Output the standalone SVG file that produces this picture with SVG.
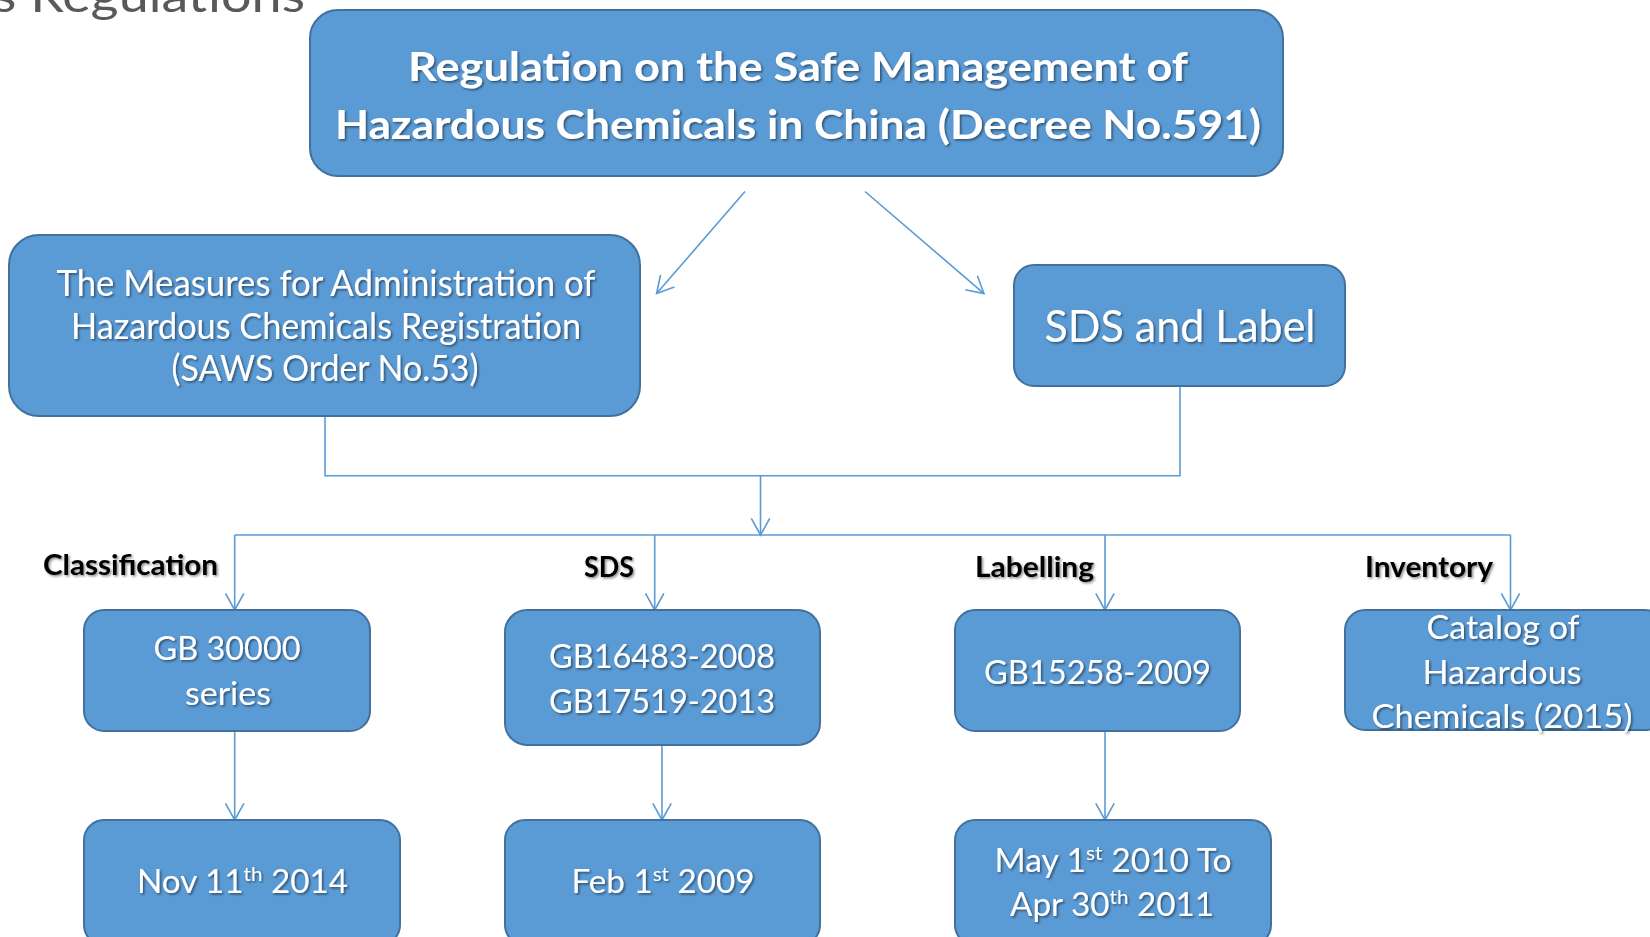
<svg xmlns="http://www.w3.org/2000/svg" width="1650" height="937" viewBox="0 0 1650 937">
<style>
.box{fill:#5B9BD5;stroke:#41719C;stroke-width:2}
.t{font-family:Lato,"Open Sans","Liberation Sans",sans-serif;fill:#FFFFFF;text-anchor:middle}
.b{font-weight:bold}
.lbl{font-family:Lato,"Open Sans","Liberation Sans",sans-serif;font-weight:bold;fill:#000000;font-size:29px}
.sup{font-size:0.62em}
.c{fill:none;stroke:#5B9BD5;stroke-width:1.6}
.a{marker-end:url(#arr)}
</style>
<defs>
<marker id="arr" markerUnits="userSpaceOnUse" viewBox="-20 -12 22 24" markerWidth="22" markerHeight="24" refX="0" refY="0" orient="auto">
<path d="M-16.6,-9.2 L0,0 L-16.6,9.2" fill="none" stroke="#5B9BD5" stroke-width="1.6"/>
</marker>
<filter id="sh" x="-5%" y="-30%" width="110%" height="160%">
<feDropShadow dx="1.5" dy="1.5" stdDeviation="1" flood-color="#000" flood-opacity="0.5"/>
</filter>
<filter id="shl" x="-5%" y="-30%" width="110%" height="160%">
<feDropShadow dx="1.5" dy="1.5" stdDeviation="1" flood-color="#000" flood-opacity="0.45"/>
</filter>
</defs>
<rect width="1650" height="937" fill="#FFFFFF"/>

<g id="title">
<text x="305" y="12" font-family="Lato,'Open Sans','Liberation Sans',sans-serif" font-size="46" fill="#595959" text-anchor="end" textLength="312" lengthAdjust="spacingAndGlyphs">s Regulations</text>
</g>

<g id="connectors">
<path class="c a" d="M745,191.5 L656.6,293.6"/>
<path class="c a" d="M865,191.5 L984,293.6"/>
<path class="c" d="M325,416 V475.7 H1180 V386"/>
<path class="c a" d="M760.5,475.7 V535"/>
<path class="c" d="M234.7,535 H1510.5"/>
<path class="c a" d="M234.7,535 V610"/>
<path class="c a" d="M654.7,535 V610"/>
<path class="c a" d="M1105,535 V610"/>
<path class="c a" d="M1510.5,535 V610"/>
<path class="c a" d="M234.7,731 V820"/>
<path class="c a" d="M662,745 V820"/>
<path class="c a" d="M1105,731 V820"/>
</g>

<g id="n-decree">
<rect class="box" x="310" y="10" width="973" height="166" rx="28"/>
<g filter="url(#sh)">
<text class="t b" x="798" y="81" font-size="40" textLength="780" lengthAdjust="spacingAndGlyphs">Regulation on the Safe Management of</text>
<text class="t b" x="798" y="139" font-size="40" textLength="926" lengthAdjust="spacingAndGlyphs">Hazardous Chemicals in China (Decree No.591)</text>
</g>
</g>

<g id="n-measures">
<rect class="box" x="9" y="235" width="631" height="181" rx="30"/>
<g filter="url(#sh)">
<text class="t" x="326" y="296" font-size="36.5" textLength="539" lengthAdjust="spacingAndGlyphs">The Measures for Administration of</text>
<text class="t" x="326" y="338.5" font-size="36.5" textLength="510" lengthAdjust="spacingAndGlyphs">Hazardous Chemicals Registration</text>
<text class="t" x="325" y="381" font-size="36.5" textLength="307" lengthAdjust="spacingAndGlyphs">(SAWS Order No.53)</text>
</g>
</g>

<g id="n-sdslabel">
<rect class="box" x="1014" y="265" width="331" height="121" rx="20"/>
<g filter="url(#sh)">
<text class="t" x="1180" y="342" font-size="43.5" textLength="271" lengthAdjust="spacingAndGlyphs">SDS and Label</text>
</g>
</g>

<g id="labels" filter="url(#shl)">
<text class="lbl" x="43" y="575" textLength="175" lengthAdjust="spacingAndGlyphs">Classification</text>
<text class="lbl" x="584" y="577" textLength="50" lengthAdjust="spacingAndGlyphs">SDS</text>
<text class="lbl" x="975" y="577" textLength="119" lengthAdjust="spacingAndGlyphs">Labelling</text>
<text class="lbl" x="1365" y="577" textLength="128" lengthAdjust="spacingAndGlyphs">Inventory</text>
</g>

<g id="n-gb30000">
<rect class="box" x="84" y="610" width="286" height="121" rx="20"/>
<g filter="url(#sh)">
<text class="t" x="227" y="660" font-size="32.5" textLength="147" lengthAdjust="spacingAndGlyphs">GB 30000</text>
<text class="t" x="228" y="705" font-size="32.5" textLength="86" lengthAdjust="spacingAndGlyphs">series</text>
</g>
</g>

<g id="n-gb16483">
<rect class="box" x="505" y="610" width="315" height="135" rx="22"/>
<g filter="url(#sh)">
<text class="t" x="662" y="668" font-size="32.5" textLength="226" lengthAdjust="spacingAndGlyphs">GB16483-2008</text>
<text class="t" x="662" y="713" font-size="32.5" textLength="226" lengthAdjust="spacingAndGlyphs">GB17519-2013</text>
</g>
</g>

<g id="n-gb15258">
<rect class="box" x="955" y="610" width="285" height="121" rx="20"/>
<g filter="url(#sh)">
<text class="t" x="1097.5" y="684" font-size="32.5" textLength="227" lengthAdjust="spacingAndGlyphs">GB15258-2009</text>
</g>
</g>

<g id="n-catalog">
<rect class="box" x="1345" y="610" width="320" height="120" rx="20"/>
<g filter="url(#sh)">
<text class="t" x="1503" y="639" font-size="33" textLength="153" lengthAdjust="spacingAndGlyphs">Catalog of</text>
<text class="t" x="1502" y="684" font-size="33" textLength="159" lengthAdjust="spacingAndGlyphs">Hazardous</text>
<text class="t" x="1502" y="728" font-size="33" textLength="261" lengthAdjust="spacingAndGlyphs">Chemicals (2015)</text>
</g>
</g>

<g id="n-nov">
<rect class="box" x="84" y="820" width="316" height="125" rx="20"/>
<g filter="url(#sh)">
<text class="t" x="242.5" y="893" font-size="32.5" textLength="211" lengthAdjust="spacingAndGlyphs">Nov 11<tspan class="sup" dy="-12">th</tspan><tspan dy="12"> 2014</tspan></text>
</g>
</g>

<g id="n-feb">
<rect class="box" x="505" y="820" width="315" height="125" rx="20"/>
<g filter="url(#sh)">
<text class="t" x="663" y="893" font-size="32.5" textLength="183" lengthAdjust="spacingAndGlyphs">Feb 1<tspan class="sup" dy="-12">st</tspan><tspan dy="12"> 2009</tspan></text>
</g>
</g>

<g id="n-may">
<rect class="box" x="955" y="820" width="316" height="125" rx="20"/>
<g filter="url(#sh)">
<text class="t" x="1113" y="871.5" font-size="32.5" textLength="237" lengthAdjust="spacingAndGlyphs">May 1<tspan class="sup" dy="-12">st</tspan><tspan dy="12"> 2010 To</tspan></text>
<text class="t" x="1112" y="916" font-size="32.5" textLength="204" lengthAdjust="spacingAndGlyphs">Apr 30<tspan class="sup" dy="-12">th</tspan><tspan dy="12"> 2011</tspan></text>
</g>
</g>
</svg>
